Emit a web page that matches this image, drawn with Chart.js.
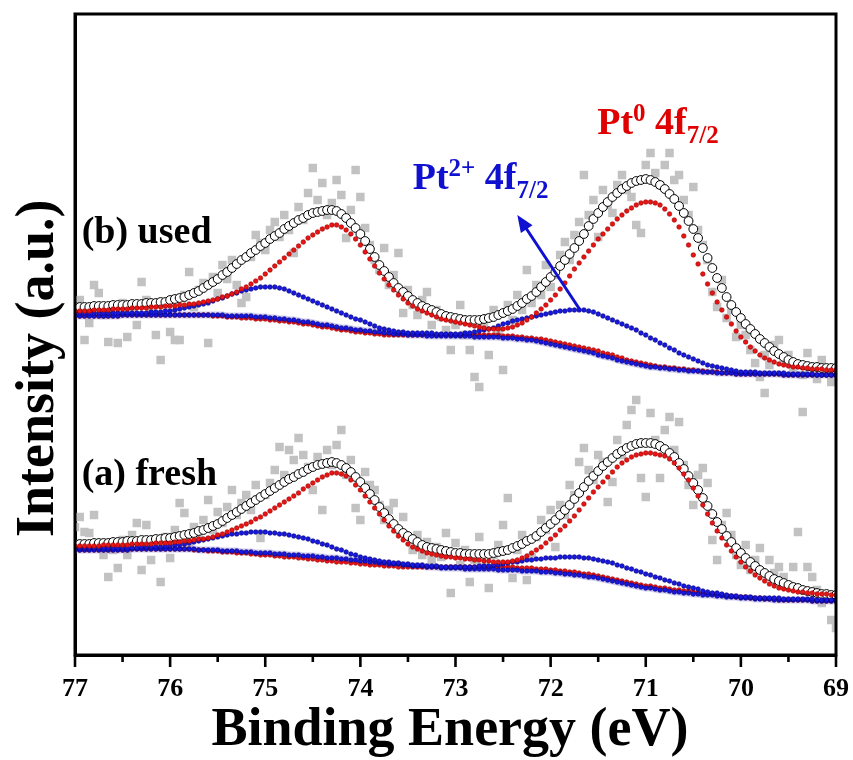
<!DOCTYPE html>
<html>
<head>
<meta charset="utf-8">
<script src="https://cdn.jsdelivr.net/npm/chart.js@4.4.1/dist/chart.umd.min.js"></script>
<style>
  html, body { margin: 0; padding: 0; background: #ffffff; }
  #wrap { width: 853px; height: 760px; }
</style>
</head>
<body>
<div id="wrap"><canvas id="c" width="853" height="760"></canvas></div>
<script>
// ---------- DATA (binding energy grid, eV) ----------
const energies = [
  77.00,76.95,76.90,76.85,76.80,76.75,76.70,76.65,76.60,76.55,76.50,76.45,76.40,76.35,76.30,76.25,76.20,76.15,76.10,76.05,
  76.00,75.95,75.90,75.85,75.80,75.75,75.70,75.65,75.60,75.55,75.50,75.45,75.40,75.35,75.30,75.25,75.20,75.15,75.10,75.05,
  75.00,74.95,74.90,74.85,74.80,74.75,74.70,74.65,74.60,74.55,74.50,74.45,74.40,74.35,74.30,74.25,74.20,74.15,74.10,74.05,
  74.00,73.95,73.90,73.85,73.80,73.75,73.70,73.65,73.60,73.55,73.50,73.45,73.40,73.35,73.30,73.25,73.20,73.15,73.10,73.05,
  73.00,72.95,72.90,72.85,72.80,72.75,72.70,72.65,72.60,72.55,72.50,72.45,72.40,72.35,72.30,72.25,72.20,72.15,72.10,72.05,
  72.00,71.95,71.90,71.85,71.80,71.75,71.70,71.65,71.60,71.55,71.50,71.45,71.40,71.35,71.30,71.25,71.20,71.15,71.10,71.05,
  71.00,70.95,70.90,70.85,70.80,70.75,70.70,70.65,70.60,70.55,70.50,70.45,70.40,70.35,70.30,70.25,70.20,70.15,70.10,70.05,
  70.00,69.95,69.90,69.85,69.80,69.75,69.70,69.65,69.60,69.55,69.50,69.45,69.40,69.35,69.30,69.25,69.20,69.15,69.10,69.05,
  69.00
];
const xTickLabels = ['77','76','75','74','73','72','71','70','69'];

// ----- (b) used -----
const usedRaw = [
  342,355,315,332,370,362,340,313,345,312,352,318,348,330,373,355,342,320,295,350,
  323,315,315,360,383,348,365,372,312,378,362,390,376,395,370,352,358,398,420,412,
  405,425,433,418,440,425,402,448,435,462,487,455,472,440,452,475,460,417,445,485,
  458,427,410,395,385,407,370,380,402,342,365,350,340,355,363,330,345,338,325,305,
  330,350,320,305,278,268,330,300,345,325,285,350,335,360,345,385,352,370,360,390,
  368,380,400,413,395,420,433,480,440,455,418,465,450,442,470,480,465,458,430,422,
  490,502,482,470,490,502,475,480,455,440,468,425,410,395,363,348,375,337,345,318,
  330,320,305,292,278,300,290,310,315,295,300,285,290,280,302,288,276,295,283,273,
  278
];
const usedEnvelope = [
  348,348,348,348,349,349,349,349,350,350,350,350,351,351,351,352,352,352,353,353,
  355,356,357,358,360,362,364,367,370,373,376,380,383,387,391,395,398,402,405,409,
  412,416,419,422,426,429,432,435,437,440,442,443,444,445,445,444,441,437,432,427,
  421,414,406,398,390,384,378,372,367,363,359,355,352,349,347,345,343,341,339,338,
  337,336,335,335,335,335,336,337,338,340,342,344,346,349,352,356,359,363,368,373,
  378,383,389,395,401,407,414,421,429,436,442,448,453,458,462,466,469,472,474,475,
  476,475,473,470,466,461,456,449,442,434,426,417,407,397,387,377,367,358,350,343,
  337,331,326,321,316,312,308,304,301,298,295,293,291,290,289,288,288,287,287,287,
  287
];
const usedPt0 = [
  344,344,344,344,345,345,345,345,346,346,346,346,347,347,347,347,348,348,348,349,
  349,349,350,350,351,351,352,353,354,355,356,358,359,361,363,366,368,371,374,377,
  381,385,389,393,397,401,405,409,413,417,420,423,426,428,430,430,428,425,421,416,
  410,403,396,389,382,376,370,365,360,356,352,349,346,344,342,340,338,336,335,334,
  333,332,331,330,329,328,327,326,326,326,326,327,328,330,332,335,338,342,346,350,
  355,360,366,372,379,386,392,398,404,410,416,421,426,431,436,440,444,447,450,452,
  453,453,452,450,446,441,435,428,419,410,400,391,381,371,362,353,345,338,331,324,
  318,313,308,304,300,297,295,293,291,290,289,288,288,287,287,286,286,286,285,285,
  285
];
const usedPt2 = [
  342,342,342,342,342,342,342,342,342,342,342,342,342,342,342,342,343,343,343,344,
  344,345,346,347,348,349,350,351,352,354,356,357,359,361,362,364,365,366,367,368,
  368,368,368,367,366,364,362,360,358,356,354,352,350,348,346,344,342,340,338,336,
  335,333,331,329,327,326,325,324,323,323,322,322,322,322,322,322,321,321,321,321,
  321,321,322,322,323,324,325,326,327,329,331,332,334,335,336,337,338,339,340,341,
  342,343,344,344,345,345,345,345,344,343,341,339,337,335,333,331,329,327,325,322,
  320,317,315,312,310,307,305,302,300,298,296,294,292,290,289,288,287,286,285,284,
  283,283,283,283,282,282,282,282,282,282,281,281,281,281,281,281,280,280,280,280,
  280
];
const usedBackground = [
  339,339,339,339,339,339,339,339,339,339,340,340,340,340,340,340,340,340,340,340,
  340,340,340,340,340,340,340,340,340,340,340,340,339,339,339,339,339,339,338,338,
  338,337,337,336,336,335,335,334,333,333,332,331,330,330,329,328,327,327,326,325,
  325,324,324,323,323,322,322,321,321,321,320,320,320,320,319,319,319,319,319,319,
  319,319,319,319,318,318,318,318,318,318,317,317,317,316,316,315,315,314,313,312,
  311,310,309,308,307,306,305,304,303,302,300,299,298,297,295,294,293,292,291,290,
  289,288,288,287,287,286,286,285,285,284,284,284,283,283,283,282,282,282,282,281,
  281,281,281,281,281,281,281,281,281,280,280,280,280,280,280,280,280,280,280,280,
  280
];
const usedPt0Base = [
  339,339,339,339,339,339,339,339,339,339,340,340,340,340,340,340,340,340,340,340,
  340,340,340,340,340,340,340,340,340,339,339,339,338,338,338,337,337,337,336,336,
  336,335,335,334,334,333,333,332,331,331,330,329,328,328,327,326,325,325,324,323,
  323,322,322,321,321,320,320,320,320,320,320,320,320,320,320,320,320,320,320,320,
  320,320,320,320,320,320,320,320,320,320,319,319,319,318,318,317,317,316,316,315,
  314,313,312,311,310,309,308,307,306,305,304,302,301,300,298,297,295,294,293,292,
  291,290,289,288,288,287,287,286,286,285,285,284,284,283,283,283,282,282,282,281,
  281,281,281,281,281,281,281,281,281,280,280,280,280,280,280,280,280,280,280,280,
  280
];

// ----- (a) fresh -----
const freshRaw = [
  128,138,123,122,140,110,100,78,105,87,115,100,120,132,85,130,95,110,73,118,
  97,125,152,142,112,128,120,135,155,125,143,132,148,165,140,152,160,145,170,117,
  160,172,185,208,180,205,195,217,200,188,165,198,145,205,190,210,225,180,195,147,
  135,183,170,165,150,135,145,152,125,138,118,105,120,100,113,95,108,98,122,62,
  112,90,105,73,95,118,88,67,100,110,130,157,77,105,120,75,98,118,135,125,
  145,108,150,140,170,160,193,207,185,175,200,193,153,173,215,200,230,245,255,177,
  158,242,215,177,225,238,205,233,190,170,150,180,187,172,115,95,130,142,120,100,
  90,110,85,95,107,262,95,82,88,78,70,88,123,243,88,78,65,52,60,35,
  27
];
const freshEnvelope = [
  111,111,111,111,112,112,112,112,113,113,113,114,114,114,115,115,115,116,116,117,
  117,118,119,120,121,122,124,125,127,129,131,134,137,140,143,146,149,152,155,158,
  161,164,167,170,173,176,178,181,183,186,188,190,191,192,193,192,190,187,183,178,
  173,167,161,155,148,142,136,131,126,122,119,116,113,110,108,107,106,105,104,103,
  102,102,101,101,101,101,101,101,102,103,104,105,107,109,111,114,116,119,123,127,
  131,135,140,145,150,156,162,168,174,179,184,189,193,197,201,204,207,209,211,212,
  212,212,211,209,206,202,198,192,186,179,172,165,157,149,141,133,126,119,113,107,
  102,97,93,89,85,82,79,76,74,72,70,68,67,65,64,63,62,61,61,60,
  60
];
const freshPt0 = [
  109,109,109,109,109,109,110,110,110,110,110,110,111,111,111,111,111,112,112,112,
  112,113,113,114,114,115,116,116,117,118,120,121,123,125,127,129,131,133,136,138,
  141,144,147,150,153,156,159,162,166,169,172,175,178,180,182,182,181,179,175,170,
  165,159,153,147,141,135,129,124,119,115,111,108,106,104,102,101,100,99,98,98,
  97,97,96,96,95,95,94,94,93,93,93,93,94,95,97,99,102,105,108,112,
  116,120,125,129,134,139,145,151,157,163,168,173,178,183,188,192,195,198,200,201,
  202,202,201,200,199,196,192,187,181,175,167,159,150,141,132,124,117,110,104,98,
  93,88,84,80,77,74,71,69,67,66,65,64,63,63,62,62,61,61,61,60,
  60
];
const freshPt2 = [
  107,107,107,107,107,107,107,107,107,107,107,107,107,107,108,108,108,108,108,109,
  109,110,110,111,112,113,114,115,116,117,118,119,120,121,121,122,122,123,123,123,
  123,122,122,121,121,120,119,118,117,116,114,113,111,110,108,106,105,103,101,100,
  98,97,96,95,94,93,93,92,92,91,91,90,90,90,89,89,89,88,88,88,
  88,88,88,88,88,89,89,89,90,90,91,92,93,93,94,95,95,96,96,97,
  97,97,98,98,98,98,98,97,97,96,95,94,93,92,90,89,87,86,84,83,
  81,80,78,77,75,74,72,71,69,68,67,66,64,63,62,62,61,60,59,59,
  58,58,58,57,57,57,57,57,57,56,56,56,56,56,56,56,55,55,55,55,
  55
];
const freshBackground = [
  105,105,105,105,105,105,105,105,105,105,105,105,106,106,106,106,106,106,106,106,
  106,106,106,106,106,106,105,105,105,105,105,104,104,104,104,103,103,103,102,102,
  102,102,101,101,101,100,100,100,99,99,99,98,98,97,97,97,96,96,95,95,
  94,94,93,93,92,92,91,91,91,90,90,89,89,89,88,88,88,87,87,87,
  87,87,86,86,86,86,86,86,86,85,85,85,85,85,84,84,84,84,83,83,
  83,82,82,81,81,80,80,79,78,78,77,76,75,74,73,72,71,70,69,68,
  67,67,66,65,65,64,63,63,62,62,61,61,60,60,60,59,59,58,58,58,
  57,57,57,56,56,56,56,55,55,55,55,55,55,55,55,54,54,54,54,54,
  54
];
const freshPt0Base = [
  105,105,105,105,105,105,105,105,105,105,105,105,106,106,106,106,106,106,106,106,
  106,106,106,106,106,105,105,105,104,104,104,103,103,103,102,102,102,101,101,100,
  100,100,99,99,98,98,98,97,97,96,96,95,95,94,94,93,93,93,92,92,
  91,91,90,90,90,89,89,89,88,88,88,88,88,88,88,88,88,88,88,88,
  88,88,88,88,88,88,88,88,88,88,88,88,88,87,87,87,87,86,86,86,
  85,85,84,84,83,83,82,81,81,80,79,78,77,76,75,74,73,72,71,70,
  69,69,68,67,67,66,65,65,64,64,63,62,62,61,61,60,60,59,59,58,
  58,58,57,57,57,56,56,56,55,55,55,55,55,55,55,54,54,54,54,54,
  54
];

// ---------- BUILD ----------
const pts = ys => energies.map((e, i) => ({ x: e, y: ys[i] }));

const RED = '#e81515', RED_EDGE = '#a00000';
const BLUE = '#1818e0', BLUE_EDGE = '#00007a';

function panelSets(raw, env, pt0, pt2, bg, pt0bg) {
  return [
    { label: 'raw', data: pts(raw), showLine: false, pointStyle: 'rect', pointRadius: 6,
      pointBackgroundColor: '#c2c2c2', pointBorderWidth: 0, order: 10 },
    { label: 'background', data: pts(bg), showLine: true, borderColor: 'rgba(170,160,225,0.55)',
      borderWidth: 7, pointRadius: 0, tension: 0, order: 9 },
    { label: 'envelope', data: pts(env), showLine: false, pointStyle: 'circle', pointRadius: 4.4,
      pointBackgroundColor: '#ffffff', pointBorderColor: '#000000', pointBorderWidth: 1, order: 8 },
    { label: 'Pt0 base', data: pts(pt0bg), showLine: false, pointRadius: 2.3,
      pointBackgroundColor: RED, pointBorderColor: RED_EDGE, pointBorderWidth: 0.6, order: 7 },
    { label: 'Pt2+ base', data: pts(bg), showLine: false, pointRadius: 2.3,
      pointBackgroundColor: BLUE, pointBorderColor: BLUE_EDGE, pointBorderWidth: 0.6, order: 6 },
    { label: 'Pt2+', data: pts(pt2), showLine: false, pointRadius: 2.3,
      pointBackgroundColor: BLUE, pointBorderColor: BLUE_EDGE, pointBorderWidth: 0.6, order: 5 },
    { label: 'Pt0', data: pts(pt0), showLine: false, pointRadius: 2.3,
      pointBackgroundColor: RED, pointBorderColor: RED_EDGE, pointBorderWidth: 0.6, order: 4 }
  ];
}

const datasets = [
  ...panelSets(usedRaw, usedEnvelope, usedPt0, usedPt2, usedBackground, usedPt0Base),
  ...panelSets(freshRaw, freshEnvelope, freshPt0, freshPt2, freshBackground, freshPt0Base)
];

const SERIF = '"Liberation Serif", "Times New Roman", serif';

function richText(ctx, parts, x, y) {
  let cx = x;
  for (const p of parts) {
    ctx.font = 'bold ' + p.size + 'px ' + SERIF;
    ctx.fillText(p.t, cx, y + (p.dy || 0));
    cx += ctx.measureText(p.t).width;
  }
}

const decor = {
  id: 'decor',
  beforeDraw(chart) {
    const c = chart.ctx;
    c.save(); c.fillStyle = '#ffffff'; c.fillRect(0, 0, chart.width, chart.height); c.restore();
  },
  afterDraw(chart) {
    const { ctx, chartArea: a, scales: { x, y } } = chart;
    ctx.save();
    // frame
    ctx.strokeStyle = '#000'; ctx.lineWidth = 3;
    ctx.strokeRect(a.left, a.top, a.right - a.left, a.bottom - a.top);
    // ticks (major + minor, outward)
    ctx.lineWidth = 2.6;
    for (let v = 69; v <= 77; v += 0.5) {
      const px = x.getPixelForValue(v);
      const len = Number.isInteger(v) ? 12 : 7;
      ctx.beginPath(); ctx.moveTo(px, a.bottom); ctx.lineTo(px, a.bottom + len); ctx.stroke();
    }
    // axis titles
    ctx.fillStyle = '#000'; ctx.textBaseline = 'alphabetic';
    ctx.font = 'bold 54px ' + SERIF;
    ctx.textAlign = 'center';
    ctx.fillText('Binding Energy (eV)', 450, 745);
    ctx.save();
    ctx.translate(53, 537); ctx.rotate(-Math.PI / 2);
    ctx.textAlign = 'left';
    ctx.fillText('Intensity (a.u.)', 0, 0);
    ctx.restore();
    // panel labels
    ctx.textAlign = 'left';
    ctx.font = 'bold 38px ' + SERIF;
    ctx.fillText('(b) used', x.getPixelForValue(76.93), y.getPixelForValue(412));
    ctx.fillText('(a) fresh', x.getPixelForValue(76.93), y.getPixelForValue(170));
    // component labels
    ctx.fillStyle = '#e00000';
    richText(ctx, [{ t: 'Pt', size: 38 }, { t: '0', size: 25, dy: -13 }, { t: ' 4f', size: 38 }, { t: '7/2', size: 25, dy: 9 }],
      x.getPixelForValue(71.51), y.getPixelForValue(521));
    ctx.fillStyle = '#1010d0';
    richText(ctx, [{ t: 'Pt', size: 38 }, { t: '2+', size: 25, dy: -13 }, { t: ' 4f', size: 38 }, { t: '7/2', size: 25, dy: 9 }],
      x.getPixelForValue(73.45), y.getPixelForValue(466));
    // arrow
    const x0 = x.getPixelForValue(71.69), y0 = y.getPixelForValue(345);
    const x1 = x.getPixelForValue(72.35), y1 = y.getPixelForValue(440);
    const ang = Math.atan2(y1 - y0, x1 - x0);
    ctx.strokeStyle = '#1010d0'; ctx.fillStyle = '#1010d0'; ctx.lineWidth = 3;
    ctx.beginPath(); ctx.moveTo(x0, y0);
    ctx.lineTo(x1 - 12 * Math.cos(ang), y1 - 12 * Math.sin(ang)); ctx.stroke();
    ctx.beginPath();
    ctx.moveTo(x1, y1);
    ctx.lineTo(x1 - 17 * Math.cos(ang) + 7 * Math.sin(ang), y1 - 17 * Math.sin(ang) - 7 * Math.cos(ang));
    ctx.lineTo(x1 - 17 * Math.cos(ang) - 7 * Math.sin(ang), y1 - 17 * Math.sin(ang) + 7 * Math.cos(ang));
    ctx.closePath(); ctx.fill();
    ctx.restore();
  }
};

new Chart(document.getElementById('c').getContext('2d'), {
  type: 'line',
  data: { datasets },
  options: {
    responsive: false,
    animation: false,
    events: [],
    layout: { padding: { left: 0, right: 17, top: 14, bottom: 0 } },
    plugins: { legend: { display: false }, tooltip: { enabled: false } },
    scales: {
      x: {
        type: 'linear', reverse: true, min: 69, max: 77,
        afterFit: s => { s.height = 105; s.paddingLeft = 0; s.paddingRight = 0; },
        ticks: {
          stepSize: 0.5, autoSkip: false, maxRotation: 0, padding: 19, color: '#000',
          font: { family: SERIF, weight: 'bold', size: 26 },
          callback: v => Number.isInteger(v) ? xTickLabels[77 - v] : ''
        },
        grid: { display: false, drawTicks: false },
        border: { display: true, color: '#000', width: 3 },
        title: { display: false }
      },
      y: {
        type: 'linear', min: 0, max: 641,
        afterFit: s => { s.width = 75; s.paddingTop = 0; s.paddingBottom = 0; },
        ticks: { display: false },
        grid: { display: false, drawTicks: false },
        border: { display: true, color: '#000', width: 3 },
        title: { display: false }
      }
    }
  },
  plugins: [decor]
});
</script>
</body>
</html>
